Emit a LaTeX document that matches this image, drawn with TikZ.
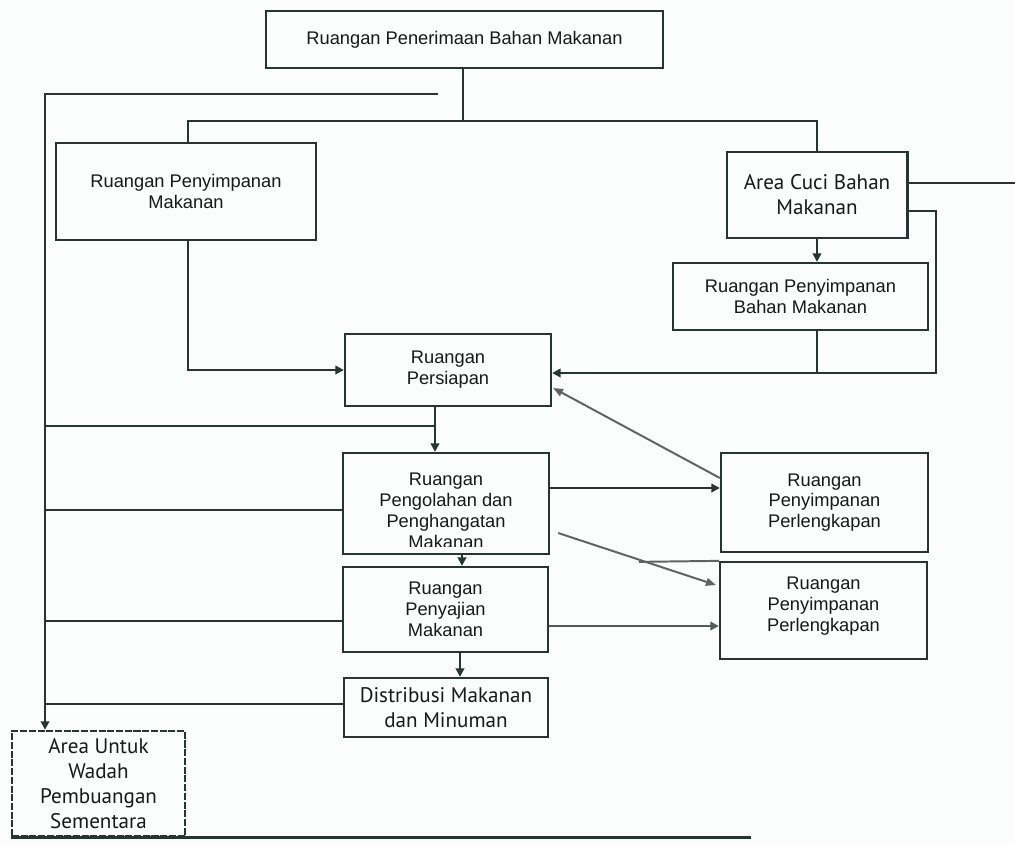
\documentclass[tikz,border=0pt]{standalone}
\usepackage{fontspec}
\setmainfont{Liberation Sans}
\newfontfamily\techfont{PT Sans}
\usetikzlibrary{arrows.meta,calc}
\definecolor{ink}{HTML}{263532}
\definecolor{graywire}{HTML}{5E6462}
\definecolor{paper}{HTML}{FBFCFC}

\begin{document}
\begin{tikzpicture}[x=0.025cm,y=-0.025cm,
  room/.style={draw=ink, line width=1.6pt, rectangle, inner sep=0pt, align=center,
    font=\fontsize{13}{14.8}\selectfont, text=black!90},
  techroom/.style={room, font=\techfont\fontsize{15}{17.8}\selectfont},
  wire/.style={draw=ink, line width=2.1pt},
  arr/.style={wire, -{Triangle[length=6pt,width=6pt]}},
  thinwire/.style={draw=graywire, line width=1.4pt},
  thinarr/.style={thinwire, -{Triangle[length=7pt,width=5.5pt]}}]

% canvas
\fill[paper] (0,0) rectangle (1015,844);
\useasboundingbox (0,0) rectangle (1015,844);

% rooms
\node[room, minimum width=9.925cm, minimum height=1.425cm] (terima) at (464.5,39.5)
  {Ruangan Penerimaan Bahan Makanan};
\node[room, minimum width=6.5cm, minimum height=2.425cm] (simpanMakan) at (186,191.5)
  {Ruangan Penyimpanan\\Makanan};
\node[techroom, line width=2.1pt, minimum width=4.5cm, minimum height=2.15cm] (cuci) at (817,195)
  {Area Cuci Bahan\\Makanan};
\node[room, minimum width=6.375cm, minimum height=1.675cm] (simpanBahan) at (800.5,296.5)
  {Ruangan Penyimpanan\\Bahan Makanan};
\node[room, minimum width=5.15cm, minimum height=1.8cm] (persiapan) at (448,370)
  {Ruangan\\Persiapan};
\node[room, minimum width=5.15cm, minimum height=2.525cm] (olah) at (446,503.5) {};
\begin{scope}
  \clip (olah.north west) rectangle ($(olah.south east)+(0,-9)$);
  \node[room, draw=none] (olahText) at (446,511)
    {Ruangan\\Pengolahan dan\\Penghangatan\\Makanan};
\end{scope}
\node[room, minimum width=5.175cm, minimum height=2.475cm] (perl1) at (824.5,502.5)
  {Ruangan\\Penyimpanan\\Perlengkapan};
\node[room, minimum width=5.175cm, minimum height=2.425cm] (perl2) at (823.5,610.5)
  {Ruangan\\Penyimpanan\\Perlengkapan\\[-6pt]};
\node[room, minimum width=5.125cm, minimum height=2.125cm] (saji) at (445.5,609.5)
  {Ruangan\\Penyajian\\Makanan};
\node[techroom, minimum width=5.1cm, minimum height=1.475cm] (distribusi) at (446,707.5)
  {Distribusi Makanan\\dan Minuman};
\node[techroom, dash pattern=on 5pt off 1.2pt, line width=1.8pt,
  minimum width=4.325cm, minimum height=2.625cm] (sampah) at (98.5,783.5)
  {Area Untuk\\Wadah\\Pembuangan\\Sementara};

% bend points of the wiring
\coordinate (bus) at (463,121);
\coordinate (busL) at (188,121);
\coordinate (busR) at (817,121);
\coordinate (wasteTop) at (45,94);
\coordinate (wasteEnd) at (438,94);
\coordinate (loopR) at (936,211);
\coordinate (loopB) at (936,373);
\coordinate (edgeR) at (1015,183);
\coordinate (prepDrop) at (435,426);
\coordinate (rowOlah) at (0,510);
\coordinate (rowPerl) at (0,488);
\coordinate (cookDrop) at (462,0);
\coordinate (rowSaji) at (0,621);
\coordinate (rowSajiR) at (0,626);
\coordinate (serveDrop) at (460,0);
\coordinate (rowDist) at (0,704);

% receiving to storage and washing
\draw[wire] (terima.south -| bus) -- (bus);
\draw[wire] (busL |- simpanMakan.north) -- (busL) -- (busR) -- (busR |- cuci.north);

% waste collector on the left
\draw[arr] (wasteEnd) -- (wasteTop) -- (wasteTop |- sampah.north);

% storage to preparation
\draw[arr] (simpanMakan.south -| busL) |- (persiapan.west);

% washing to ingredient storage and preparation
\draw[arr] (cuci.south -| busR) -- (busR |- simpanBahan.north);
\draw[arr] (cuci.east |- loopR) -- (loopR) -- (loopB) -- (persiapan.east |- loopB);
\draw[wire] (simpanBahan.south -| busR) -- (busR |- loopB);
\draw[wire] (cuci.east |- edgeR) -- (edgeR);

% preparation to cooking
\draw[arr] (persiapan.south -| prepDrop) -- (prepDrop |- olah.north);
\draw[wire] (wasteTop |- prepDrop) -- (prepDrop);
\draw[wire] (wasteTop |- rowOlah) -- (olah.west |- rowOlah);
\draw[arr] (olah.east |- rowPerl) -- (perl1.west |- rowPerl);

% equipment storage links
\draw[thinarr] ($(perl1.west)+(0,-24.5)$) -- ($(persiapan.east)+(1,18)$);
\draw[thinarr] ($(olah.east)+(8,29.5)$) -- ($(perl2.west)+(-3,-25.5)$);
\draw[thinwire] ($(perl2.north west)+(-80,1)$) -- (perl2.north west);

% cooking to serving to distribution
\draw[arr] (olah.south -| cookDrop) -- (cookDrop |- saji.north);
\draw[wire] (wasteTop |- rowSaji) -- (saji.west |- rowSaji);
\draw[arr, draw=ink!80] (saji.east |- rowSajiR) -- (perl2.west |- rowSajiR);
\draw[arr] (saji.south -| serveDrop) -- (serveDrop |- distribusi.north);
\draw[wire] (wasteTop |- rowDist) -- (distribusi.west |- rowDist);

% base line under the waste area
\draw[wire] (sampah.south west) -- ($(sampah.south east)+(565,0)$);
\end{tikzpicture}
\end{document}
